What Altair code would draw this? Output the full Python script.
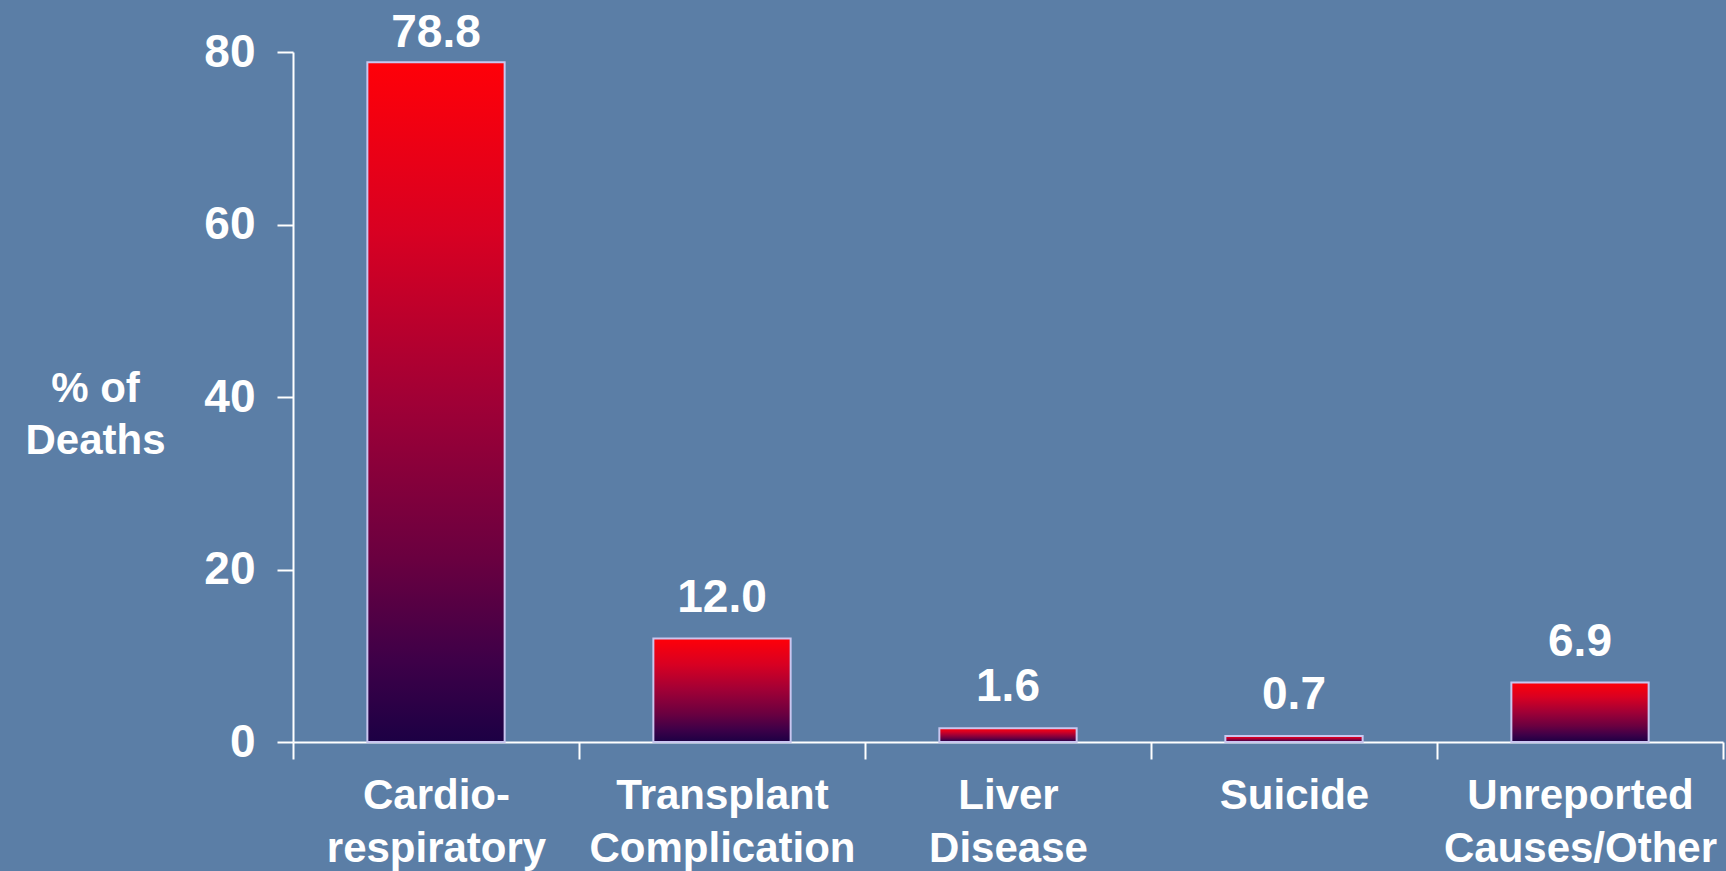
import altair as alt
import pandas as pd

# Causes of death and their share of all deaths (%)
causes = [
    "Cardio-\nrespiratory",
    "Transplant\nComplication",
    "Liver\nDisease",
    "Suicide",
    "Unreported\nCauses/Other",
]
pct_deaths = [78.8, 12.0, 1.6, 0.7, 6.9]
y_ticks = [0, 20, 40, 60, 80]

df = pd.DataFrame({"cause": causes, "pct": pct_deaths})

FONT = "Liberation Sans"
BG = "#5b7ea6"

bar_fill = alt.Gradient(
    gradient="linear",
    x1=0, x2=0, y1=1, y2=0,
    stops=[
        alt.GradientStop(offset=0.0, color="#1c0044"),
        alt.GradientStop(offset=0.12, color="#3e0048"),
        alt.GradientStop(offset=0.27, color="#6a0040"),
        alt.GradientStop(offset=0.5, color="#a00036"),
        alt.GradientStop(offset=0.75, color="#d80022"),
        alt.GradientStop(offset=1.0, color="#ff0008"),
    ],
)

x_enc = alt.X(
    "cause:N",
    sort=causes,
    scale=alt.Scale(paddingInner=0, paddingOuter=0),
    axis=alt.Axis(
        title=None,
        labelAngle=0,
        labelExpr="split(datum.label, '\\n')",
        labelFontSize=42,
        labelLineHeight=53,
        labelPadding=16,
        labelLimit=0,
        tickBand="extent",
        tickSize=17,
    ),
)

y_enc = alt.Y(
    "pct:Q",
    scale=alt.Scale(domain=[0, 80], nice=False),
    axis=alt.Axis(
        values=y_ticks,
        title=["% of", "Deaths"],
        titleAngle=0,
        titleAlign="center",
        titleBaseline="alphabetic",
        titleX=-198,
        titleY=349,
        titleFontSize=42,
        titleLineHeight=52,
        labelFontSize=46,
        labelPadding=22,
        tickSize=16,
    ),
)

bars = alt.Chart(df).mark_bar(
    color=bar_fill, stroke="#c9c6ef", strokeWidth=2,
    width=alt.RelativeBandSize(0.48),
).encode(x=x_enc, y=y_enc)

labels = (
    alt.Chart(df)
    .transform_calculate(label_y="min(datum.pct + 3.1, 80.6)")
    .mark_text(
        font=FONT, fontSize=46, fontWeight="bold", color="white",
        baseline="alphabetic", align="center",
    )
    .encode(
        x=alt.X("cause:N", sort=causes),
        y=alt.Y("label_y:Q"),
        text=alt.Text("pct:Q", format=".1f"),
    )
)

chart = (
    alt.layer(bars, labels)
    .properties(
        width=1430,
        height=690,
        autosize=alt.AutoSizeParams(type="none"),
        padding={"left": 293, "top": 52, "right": 3, "bottom": 129},
        background=BG,
    )
    .configure_view(stroke=None)
    .configure_axis(
        grid=False,
        domainColor="white",
        domainWidth=2,
        tickColor="white",
        tickWidth=2,
        labelColor="white",
        titleColor="white",
        labelFont=FONT,
        titleFont=FONT,
        labelFontWeight="bold",
        titleFontWeight="bold",
    )
)

chart.save("out.html", embed_options={"renderer": "svg", "actions": False})
